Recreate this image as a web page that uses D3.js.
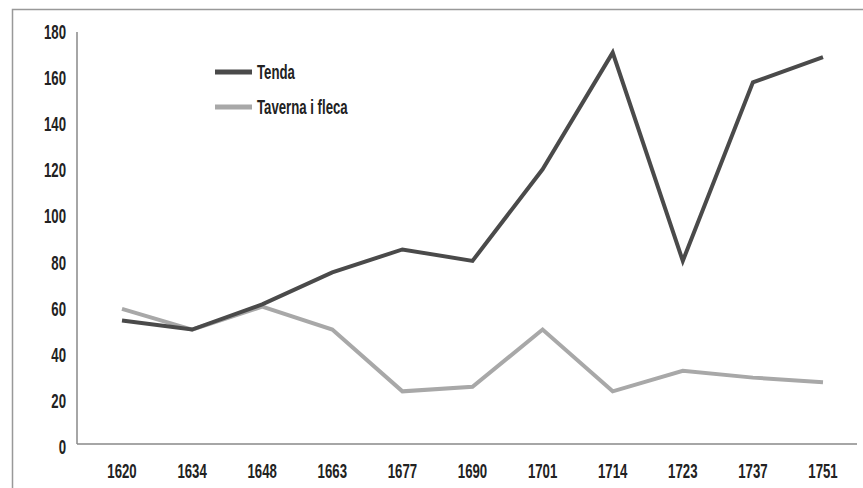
<!DOCTYPE html>
<html>
<head>
<meta charset="utf-8">
<script src="https://cdn.jsdelivr.net/npm/d3@7"></script>
<style>
  body { margin: 0; background: #fff; }
  text { font-family: "Liberation Sans", Arial, sans-serif; fill: #222; font-size: 20px; font-weight: bold; }
</style>
</head>
<body>
<div id="chart"></div>
<script>
const years = ["1620", "1634", "1648", "1663", "1677", "1690", "1701", "1714", "1723", "1737", "1751"];
const tenda = [54, 50, 61, 75, 85, 80, 120, 171, 80, 158, 169];
const taverna = [59, 50, 60, 50, 23, 25, 50, 23, 32, 29, 27];
const yTicks = [0, 20, 40, 60, 80, 100, 120, 140, 160, 180];

const width = 863, height = 488;
const squeeze = 0.66; // condensed look

const svg = d3.select("#chart")
  .append("svg")
  .attr("width", width)
  .attr("height", height);

// outer frame
svg.append("rect")
  .attr("x", 12.5).attr("y", 9.5)
  .attr("width", 900).attr("height", 600)
  .attr("fill", "none")
  .attr("stroke", "#999")
  .attr("stroke-width", 1.5);

const x = d3.scalePoint()
  .domain(years)
  .range([122, 823]);

const y = d3.scaleLinear()
  .domain([0, 180])
  .range([444, 32]);

// axes lines
svg.append("line")
  .attr("x1", 77).attr("x2", 77)
  .attr("y1", 32).attr("y2", 444)
  .attr("stroke", "#888").attr("stroke-width", 1.5);
svg.append("line")
  .attr("x1", 77).attr("x2", 857)
  .attr("y1", 444).attr("y2", 444)
  .attr("stroke", "#888").attr("stroke-width", 1.5);

// y labels
svg.selectAll(".ylab")
  .data(yTicks)
  .enter()
  .append("text")
  .attr("class", "ylab")
  .attr("transform", d => `translate(66, ${y(d) + 7 + (1 - d / 180) * 3}) scale(${squeeze}, 1)`)
  .attr("text-anchor", "end")
  .text(d => d);

// x labels
svg.selectAll(".xlab")
  .data(years)
  .enter()
  .append("text")
  .attr("class", "xlab")
  .attr("transform", d => `translate(${x(d)}, 478) scale(${squeeze}, 1)`)
  .attr("text-anchor", "middle")
  .text(d => d);

const line = d3.line()
  .x((d, i) => x(years[i]))
  .y(d => y(d));

svg.append("path")
  .attr("d", line(taverna))
  .attr("fill", "none")
  .attr("stroke", "#a8a8a8")
  .attr("stroke-width", 4)
  .attr("stroke-linejoin", "miter");

svg.append("path")
  .attr("d", line(tenda))
  .attr("fill", "none")
  .attr("stroke", "#4a4a4a")
  .attr("stroke-width", 4)
  .attr("stroke-linejoin", "miter");

// legend
const legend = [
  { name: "Tenda", color: "#4a4a4a" },
  { name: "Taverna i fleca", color: "#a8a8a8" }
];
const lg = svg.selectAll(".lg")
  .data(legend)
  .enter()
  .append("g")
  .attr("transform", (d, i) => `translate(215, ${72 + i * 35})`);
lg.append("line")
  .attr("x1", 0).attr("x2", 37)
  .attr("stroke", d => d.color)
  .attr("stroke-width", 5);
lg.append("text")
  .attr("transform", `translate(42, 7) scale(${squeeze}, 1)`)
  .text(d => d.name);
</script>
</body>
</html>
